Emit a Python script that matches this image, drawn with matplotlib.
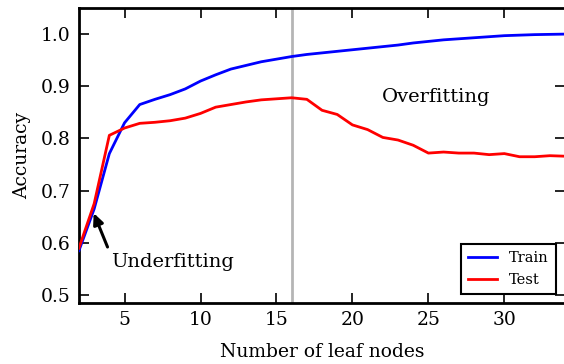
import matplotlib
matplotlib.use("Agg")
import matplotlib.pyplot as plt

# Decision tree accuracy vs. number of leaf nodes
leaf_nodes = list(range(2, 35))
train_acc = [0.585, 0.665, 0.771, 0.830, 0.865, 0.875, 0.884, 0.895, 0.910, 0.922,
             0.933, 0.940, 0.947, 0.952, 0.957, 0.961, 0.964, 0.967, 0.970, 0.973,
             0.976, 0.979, 0.983, 0.986, 0.989, 0.991, 0.993, 0.995, 0.997, 0.998,
             0.999, 0.9995, 1.000]
test_acc = [0.590, 0.675, 0.806, 0.820, 0.829, 0.831, 0.834, 0.839, 0.848, 0.860,
            0.865, 0.870, 0.874, 0.876, 0.878, 0.875, 0.854, 0.846, 0.826, 0.817,
            0.802, 0.797, 0.787, 0.772, 0.774, 0.772, 0.772, 0.769, 0.771, 0.765,
            0.765, 0.767, 0.766]
best_leaves = 16

plt.rcParams["font.family"] = ["DejaVu Serif"]
plt.rcParams["mathtext.fontset"] = "dejavuserif"

fig = plt.figure(figsize=(5.64, 3.64), dpi=100)
ax = fig.add_axes([0.140, 0.168, 0.862, 0.810])

ax.axvline(best_leaves, color="#b5b5b5", lw=2, zorder=1)
ax.plot(leaf_nodes, train_acc, color="blue", lw=2, label="Train", zorder=3)
ax.plot(leaf_nodes, test_acc, color="red", lw=2, label="Test", zorder=3)

ax.set_xlim(2, 34)
ax.set_ylim(0.485, 1.05)
ax.set_xticks([5, 10, 15, 20, 25, 30])
ax.set_yticks([0.5, 0.6, 0.7, 0.8, 0.9, 1.0])
ax.tick_params(direction="in", length=7, width=1.2, top=True, right=True,
               labelsize=13.5, pad=6)
for s in ax.spines.values():
    s.set_linewidth(2)

ax.set_xlabel("Number of leaf nodes", fontsize=13.5, labelpad=10)
ax.set_ylabel("Accuracy", fontsize=13.5, labelpad=7)

ax.text(25.5, 0.88, "Overfitting", fontsize=14, ha="center", va="center")
ax.text(4.1, 0.563, "Underfitting", fontsize=14, ha="left", va="center")
ax.annotate("", xy=(2.97, 0.657), xytext=(3.88, 0.592),
            arrowprops=dict(arrowstyle="-|>,head_width=0.3,head_length=0.65",
                            color="black", lw=2.2, shrinkA=0, shrinkB=0))

leg = ax.legend(loc="lower right", fontsize=10.5, fancybox=False, framealpha=1,
                edgecolor="black", handlelength=2.0, borderpad=0.5,
                borderaxespad=0, bbox_to_anchor=(0.981, 0.03))
leg.get_frame().set_linewidth(1.5)

fig.savefig("out.png", dpi=100)
